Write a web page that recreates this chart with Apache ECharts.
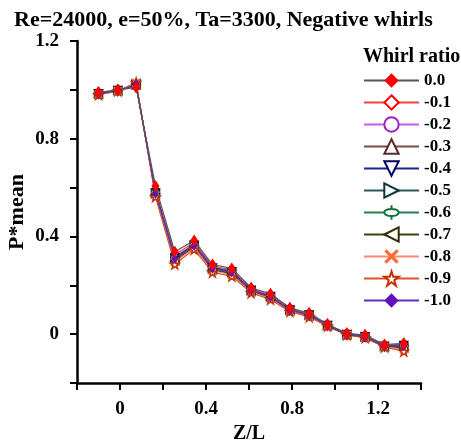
<!DOCTYPE html>
<html>
<head>
<meta charset="utf-8">
<script src="https://cdn.jsdelivr.net/npm/echarts@6/dist/echarts.min.js"></script>
<style>
  html, body { margin: 0; padding: 0; background: #fff; }
  #main { width: 461px; height: 446px; }
</style>
</head>
<body>
<div id="main"></div>
<script>
// Z/L positions of the pressure taps
const zl = [-0.1, -0.01, 0.075, 0.165, 0.255, 0.345, 0.43, 0.52, 0.61, 0.7, 0.79, 0.88, 0.965, 1.055, 1.14, 1.23, 1.32];

const whirlNames = ["0.0", "-0.1", "-0.2", "-0.3", "-0.4", "-0.5", "-0.6", "-0.7", "-0.8", "-0.9", "-1.0"];

// P*mean for each whirl ratio
const w00 = [0.99, 1.0, 1.01, 0.606, 0.337, 0.383, 0.285, 0.269, 0.19, 0.165, 0.108, 0.086, 0.04, 0.003, -0.004, -0.043, -0.038];
const w01 = [0.988, 0.998, 1.015, 0.59, 0.325, 0.375, 0.279, 0.263, 0.186, 0.16, 0.104, 0.083, 0.038, 0.001, -0.007, -0.046, -0.041];
const w02 = [0.986, 0.999, 1.018, 0.582, 0.318, 0.368, 0.275, 0.259, 0.183, 0.157, 0.102, 0.08, 0.037, 0.0, -0.009, -0.048, -0.043];
const w03 = [0.985, 0.998, 1.02, 0.58, 0.315, 0.366, 0.273, 0.257, 0.181, 0.155, 0.1, 0.079, 0.036, -0.001, -0.01, -0.049, -0.045];
const w04 = [0.984, 0.997, 1.022, 0.578, 0.312, 0.364, 0.271, 0.255, 0.18, 0.154, 0.099, 0.078, 0.035, -0.001, -0.011, -0.05, -0.047];
const w05 = [0.983, 0.997, 1.024, 0.576, 0.308, 0.362, 0.268, 0.252, 0.178, 0.152, 0.098, 0.077, 0.035, -0.002, -0.012, -0.051, -0.05];
const w06 = [0.982, 0.996, 1.025, 0.574, 0.305, 0.36, 0.266, 0.25, 0.177, 0.151, 0.097, 0.076, 0.034, -0.002, -0.012, -0.051, -0.053];
const w07 = [0.982, 0.996, 1.026, 0.572, 0.3, 0.357, 0.263, 0.247, 0.175, 0.149, 0.096, 0.075, 0.034, -0.002, -0.013, -0.052, -0.056];
const w08 = [0.981, 0.995, 1.028, 0.568, 0.295, 0.353, 0.259, 0.243, 0.172, 0.146, 0.094, 0.073, 0.033, -0.002, -0.014, -0.052, -0.062];
const w09 = [0.98, 0.995, 1.03, 0.562, 0.286, 0.347, 0.253, 0.237, 0.169, 0.142, 0.092, 0.07, 0.032, -0.003, -0.015, -0.053, -0.07];
const w10 = [0.984, 0.997, 1.021, 0.577, 0.31, 0.363, 0.27, 0.254, 0.18, 0.153, 0.099, 0.078, 0.035, -0.001, -0.011, -0.05, -0.048];

const values = [w00, w01, w02, w03, w04, w05, w06, w07, w08, w09, w10];

const FONT = "Liberation Serif";

const starPath = "path://M5,0L6.12,3.46L9.76,3.45L6.81,5.59L7.94,9.05L5,6.9L2.06,9.05L3.19,5.59L0.24,3.45L3.88,3.46Z";
const crossPath = "path://M0,1.5L1.5,0L5,3.5L8.5,0L10,1.5L6.5,5L10,8.5L8.5,10L5,6.5L1.5,10L0,8.5L3.5,5Z";
const phiPath = "path://M5,0L5,2.5M5,7.5L5,10M2.5,5A2.5,2.5,0,1,1,7.5,5A2.5,2.5,0,1,1,2.5,5Z";

// line colour, marker colour, marker, filled?, rotation, plot size
const styles = [
  { line: "#555555", mark: "#ff0000", symbol: "diamond", fill: true, rot: 0, size: [8, 12] },
  { line: "#ff4040", mark: "#ff0000", symbol: "diamond", fill: false, rot: 0, size: [8, 11] },
  { line: "#c060e0", mark: "#9a20c8", symbol: "circle", fill: false, rot: 0, size: 8 },
  { line: "#7a4a4a", mark: "#5a2a2a", symbol: "triangle", fill: false, rot: 0, size: 8 },
  { line: "#202090", mark: "#000060", symbol: "triangle", fill: false, rot: 180, size: 8 },
  { line: "#2a5a5a", mark: "#103838", symbol: "triangle", fill: false, rot: -90, size: 8 },
  { line: "#208050", mark: "#107040", symbol: phiPath, fill: false, rot: 0, size: [6, 10] },
  { line: "#404010", mark: "#303000", symbol: "triangle", fill: false, rot: 90, size: 8 },
  { line: "#ff8a70", mark: "#ff6a30", symbol: crossPath, fill: true, rot: 0, size: 9 },
  { line: "#e05020", mark: "#c83000", symbol: starPath, fill: false, rot: 0, size: 9 },
  { line: "#6030c0", mark: "#6010c0", symbol: "diamond", fill: true, rot: 0, size: [7, 11] }
];

const series = whirlNames.map((name, i) => {
  const s = styles[i];
  return {
    name: name,
    type: "line",
    data: zl.map((x, j) => [x, values[i][j]]),
    symbol: s.symbol,
    symbolSize: s.size,
    symbolRotate: s.rot,
    z: i === 0 ? 5 : 2,
    lineStyle: { color: s.line, width: 1.2 },
    itemStyle: s.fill
      ? { color: s.mark, borderColor: s.mark, borderWidth: 0 }
      : { color: "#ffffff", borderColor: s.mark, borderWidth: 1.5 },
    animation: false
  };
});
// draw the 0.0 series last so its red diamonds sit on top
series.push(series.shift());

const myChart = echarts.init(document.getElementById("main"));

const labelEvery04 = (v) => {
  const k = v / 0.4;
  if (Math.abs(k - Math.round(k)) > 1e-6) return "";
  return Math.abs(v) < 1e-9 ? "0" : v.toFixed(1);
};

const option = {
  backgroundColor: "#ffffff",
  animation: false,
  title: {
    text: "Re=24000, e=50%, Ta=3300, Negative whirls",
    left: 9,
    top: 4,
    textStyle: { fontFamily: FONT, fontWeight: "bold", fontSize: 22, color: "#000" }
  },
  graphic: [
    {
      type: "text",
      left: 363,
      top: 47,
      style: { text: "Whirl ratio", fontFamily: FONT, fontWeight: "bold", fontSize: 20, fill: "#000" }
    }
  ],
  legend: {
    orient: "vertical",
    left: 363,
    top: 72,
    padding: 0,
    itemWidth: 55,
    itemHeight: 18,
    itemGap: 5,
    data: whirlNames,
    textStyle: { fontFamily: FONT, fontWeight: "bold", fontSize: 17, color: "#000" }
  },
  grid: {
    left: 77,
    right: 40,
    top: 41,
    bottom: 63,
    outerBoundsMode: "none"
  },
  xAxis: {
    type: "value",
    min: -0.2,
    max: 1.4,
    interval: 0.2,
    name: "Z/L",
    nameLocation: "middle",
    nameGap: 40,
    nameTextStyle: { fontFamily: FONT, fontWeight: "bold", fontSize: 20, color: "#000" },
    axisLine: { onZero: false, lineStyle: { color: "#000", width: 2.5 } },
    axisTick: { inside: false, length: 7, lineStyle: { color: "#000", width: 2 } },
    axisLabel: {
      margin: 17,
      formatter: labelEvery04,
      fontFamily: FONT, fontWeight: "bold", fontSize: 19, color: "#000"
    },
    splitLine: { show: false }
  },
  yAxis: {
    type: "value",
    min: -0.2,
    max: 1.2,
    interval: 0.2,
    name: "P*mean",
    nameLocation: "middle",
    nameGap: 49,
    nameMoveOverlap: false,
    nameTextStyle: { fontFamily: FONT, fontWeight: "bold", fontSize: 22, color: "#000" },
    axisLine: { show: true, onZero: false, lineStyle: { color: "#000", width: 2.5 } },
    axisTick: { show: true, inside: false, length: 7, lineStyle: { color: "#000", width: 2 } },
    axisLabel: {
      margin: 18,
      formatter: labelEvery04,
      fontFamily: FONT, fontWeight: "bold", fontSize: 19, color: "#000"
    },
    splitLine: { show: false }
  },
  series: series
};

myChart.setOption(option);
</script>
</body>
</html>
